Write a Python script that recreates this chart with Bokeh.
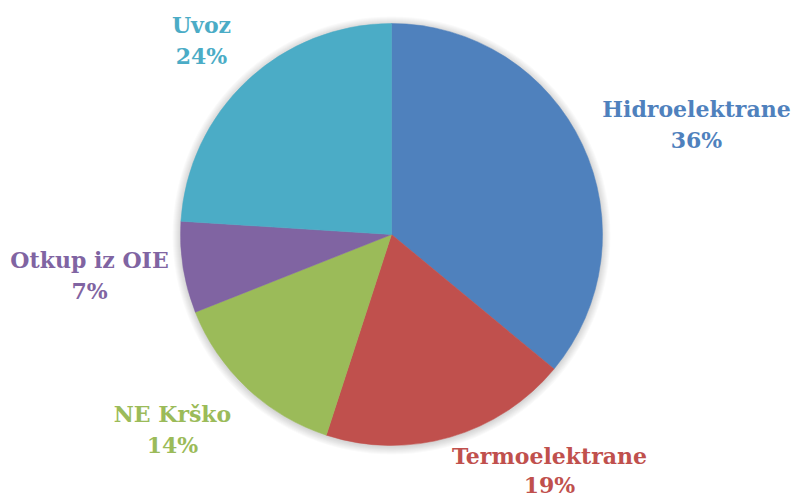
import math
from bokeh.plotting import figure
from bokeh.models import Range1d, ColumnDataSource
from bokeh.core.properties import value
from bokeh.embed import file_html
from bokeh.resources import INLINE

# ---- data ----
categories = ["Hidroelektrane", "Termoelektrane", "NE Krško", "Otkup iz OIE", "Uvoz"]
shares = [36, 19, 14, 7, 24]
colors = ["#4F81BD", "#C0504D", "#9BBB59", "#8064A2", "#4BACC6"]

# ---- layout (page pixel coordinates of label centres / baselines) ----
W, H = 792, 500
cx_px, cy_px, R = 391, 234, 211
label_cx = [696, 549, 172, 89, 201]
label_base1 = [108, 455, 413, 259, 24]
label_gap = [31, 29, 31, 31, 31]
FONT = "DejaVu Serif"
FSIZE = "22px"

def dx(px):
    return px

def dy(py):
    return H - py

p = figure(width=W, height=H, output_backend="svg", toolbar_location=None,
           x_range=Range1d(0, W), y_range=Range1d(0, H), min_border=0)
p.axis.visible = False
p.grid.visible = False
p.outline_line_color = None
p.background_fill_color = "white"

cx, cy = dx(cx_px), dy(cy_px)

# soft shadow/glow
for i in range(8, 0, -1):
    p.circle(x=[cx], y=[cy - 1], radius=R + i, fill_color="#000000",
             fill_alpha=0.018, line_color=None)

total = float(sum(shares))
starts, ends = [], []
cum = 0.0
for s in shares:
    starts.append(math.pi / 2 - 2 * math.pi * cum / total)
    cum += s
    ends.append(math.pi / 2 - 2 * math.pi * cum / total)

src = ColumnDataSource(dict(start=starts, end=ends, color=colors))
p.wedge(x=cx, y=cy, radius=R, start_angle="start", end_angle="end",
        direction="clock", fill_color="color", line_color="color", line_width=0.5,
        source=src)

lsrc = ColumnDataSource(dict(
    x=[dx(v) for v in label_cx],
    y1=[dy(v) for v in label_base1],
    y2=[dy(v + g) for v, g in zip(label_base1, label_gap)],
    name=categories,
    pct=[f"{s}%" for s in shares],
    color=colors,
))
p.text(x="x", y="y1", text="name", source=lsrc, text_color="color",
       text_font=value(FONT), text_font_style="bold", text_font_size=FSIZE,
       text_align="center", text_baseline="alphabetic")
p.text(x="x", y="y2", text="pct", source=lsrc, text_color="color",
       text_font=value(FONT), text_font_style="bold", text_font_size=FSIZE,
       text_align="center", text_baseline="alphabetic")

open("out.html", "w").write(file_html(p, INLINE))
